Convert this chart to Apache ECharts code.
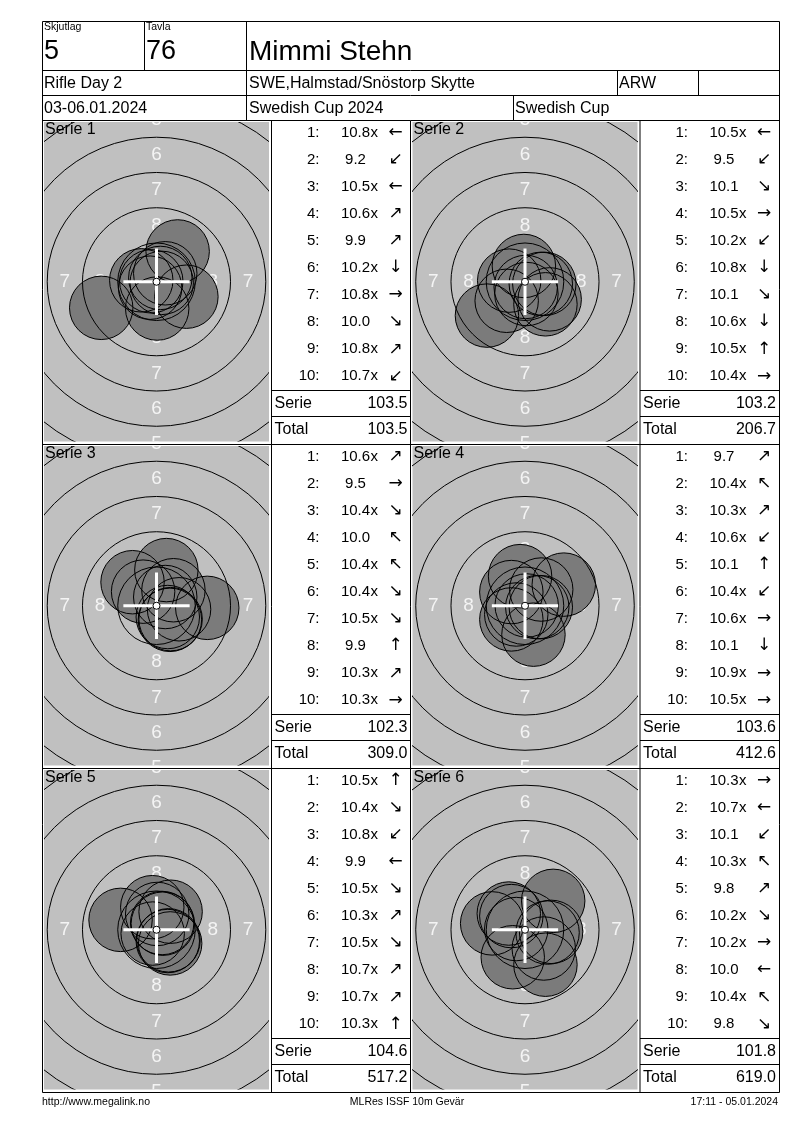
<!DOCTYPE html>
<html><head><meta charset="utf-8">
<script src="https://cdn.jsdelivr.net/npm/echarts@6/dist/echarts.min.js"></script>
<style>html,body{margin:0;padding:0;background:#fff}#c{width:800px;height:1130px}</style>
</head><body><div id="c"></div>
<script>
// ---------- header data ----------
const squad = '5';
const target = '76';
const shooterName = 'Mimmi Stehn';
const eventName = 'Rifle Day 2';
const club = 'SWE,Halmstad/Snöstorp Skytte';
const classCode = 'ARW';
const dates = '03-06.01.2024';
const competition = 'Swedish Cup 2024';
const cupName = 'Swedish Cup';
const footerLeft = 'http://www.megalink.no';
const footerMid = 'MLRes ISSF 10m Gevär';
const footerRight = '17:11 - 05.01.2024';

// ---------- series data ----------
const serieNames = ['Serie 1', 'Serie 2', 'Serie 3', 'Serie 4', 'Serie 5', 'Serie 6'];
const shotScores = [
  [10.8, 9.2, 10.5, 10.6, 9.9, 10.2, 10.8, 10.0, 10.8, 10.7],
  [10.5, 9.5, 10.1, 10.5, 10.2, 10.8, 10.1, 10.6, 10.5, 10.4],
  [10.6, 9.5, 10.4, 10.0, 10.4, 10.4, 10.5, 9.9, 10.3, 10.3],
  [9.7, 10.4, 10.3, 10.6, 10.1, 10.4, 10.6, 10.1, 10.9, 10.5],
  [10.5, 10.4, 10.8, 9.9, 10.5, 10.3, 10.5, 10.7, 10.7, 10.3],
  [10.3, 10.7, 10.1, 10.3, 9.8, 10.2, 10.2, 10.0, 10.4, 9.8]
];
const innerTen = [
  [1, 0, 1, 1, 0, 1, 1, 0, 1, 1],
  [1, 0, 0, 1, 1, 1, 0, 1, 1, 1],
  [1, 0, 1, 0, 1, 1, 1, 0, 1, 1],
  [0, 1, 1, 1, 0, 1, 1, 0, 1, 1],
  [1, 1, 1, 0, 1, 1, 1, 1, 1, 1],
  [1, 1, 0, 1, 0, 1, 1, 0, 1, 0]
];
const shotArrows = [
  ['←', '↙', '←', '↗', '↗', '↓', '→', '↘', '↗', '↙'],
  ['←', '↙', '↘', '→', '↙', '↓', '↘', '↓', '↑', '→'],
  ['↗', '→', '↘', '↖', '↖', '↘', '↘', '↑', '↗', '→'],
  ['↗', '↖', '↗', '↙', '↑', '↙', '→', '↓', '→', '→'],
  ['↑', '↘', '↙', '←', '↘', '↗', '↘', '↗', '↗', '↑'],
  ['→', '←', '↙', '↖', '↗', '↘', '→', '←', '↖', '↘']
];
// shot centres in mm from target centre (x right, y up)
const shotX = [
  [-0.37, -3.92, -1.08, 0.62, 1.50, 0.05, 0.37, 2.12, 0.27, -0.45],
  [-1.12, -2.70, 1.45, 1.12, -1.30, 0.05, 1.75, 0.10, -0.08, 1.37],
  [0.62, 3.60, 0.95, -1.70, -0.95, 1.00, 0.80, 0.70, 1.20, 1.60],
  [2.75, -0.97, 1.15, -0.62, -0.35, -0.97, 0.87, 0.60, 0.12, 1.12],
  [0.05, 0.97, -0.27, -2.55, 0.80, 1.00, 0.85, 0.45, 0.40, -0.30],
  [1.60, -0.62, -0.87, -1.15, 2.00, 1.33, 1.85, -2.33, -0.97, 1.45]
];
const shotY = [
  [0.03, -1.85, 0.10, 0.60, 2.15, -1.90, -0.08, -1.06, 0.27, -0.42],
  [0.08, -2.40, -1.60, -0.15, -1.35, -0.37, -1.25, -0.87, 1.12, -0.15],
  [0.62, -0.15, -1.00, 1.67, 1.00, -0.95, -0.80, 2.53, 1.10, -0.25],
  [1.50, 0.97, 1.15, -0.62, 2.10, -0.97, -0.10, -2.05, 0.02, -0.10],
  [1.12, -0.97, -0.27, 0.70, -0.80, 1.28, -0.75, 0.43, 0.48, 1.60],
  [-0.20, 0.05, -1.95, 1.15, 2.05, -1.33, -0.15, 0.45, 0.97, -2.48]
];
const serieSums = [103.5, 103.2, 102.3, 103.6, 104.6, 101.8];
const runningTotals = [103.5, 206.7, 309.0, 412.6, 517.2, 619.0];

// ---------- target geometry (mm) ----------
const ringRadii = [2.75, 5.25, 7.75, 10.25, 12.75, 15.25];
const ringLabelValues = [8, 7, 6, 5];
const ringLabelDist = [4.0, 6.5, 9.0, 11.5];
const tenDotRadius = 0.25;
const pelletRadius = 2.25;
const crossHalf = 2.35;

// ---------- layout ----------
const FONT = 'Liberation Sans, Arial, sans-serif';
const S = 14.1; // px per mm
const colX = [42, 410.5];
const targetW = 229.5, scoreW = 139;
const rowY = [120, 444, 768];
const rowH = 324;
const L = 42, R = 779, T = 21, B = 1092;

const chart = echarts.init(document.getElementById('c'), null, {renderer: 'canvas'});

const grids = [], xAxes = [], yAxes = [], series = [], G = [];

function txt(x, y, text, size, align, opts) {
  opts = opts || {};
  G.push({
    type: 'text', x: x, y: y, z: 100, silent: true,
    style: {
      text: text, font: (opts.weight || 'normal') + ' ' + size + 'px ' + (opts.family || FONT),
      fill: opts.color || '#000',
      align: align, textAlign: align,
      verticalAlign: 'middle', textVerticalAlign: 'middle'
    }
  });
}
function line(x1, y1, x2, y2) {
  G.push({type: 'line', z: 99, silent: true, shape: {x1: x1, y1: y1, x2: x2, y2: y2},
    style: {stroke: '#000', lineWidth: 1}});
}

// frame + header lines
G.push({type: 'rect', z: 99, silent: true, shape: {x: L + 0.5, y: T + 0.5, width: R - L, height: B - T},
  style: {fill: 'none', stroke: '#000', lineWidth: 1}});
line(L, 70.5, R, 70.5);
line(L, 95.5, R, 95.5);
line(L, 120.5, R, 120.5);
line(144.5, T, 144.5, 70.5);
line(246.5, T, 246.5, 120.5);
line(617.5, 70.5, 617.5, 95.5);
line(698.5, 70.5, 698.5, 95.5);
line(513.5, 95.5, 513.5, 120.5);

txt(44, 27, 'Skjutlag', 10.5, 'left');
txt(146, 27, 'Tavla', 10.5, 'left');
txt(44, 52, squad, 27, 'left');
txt(146, 52, target, 27, 'left');
txt(249, 52, shooterName, 28, 'left');
txt(44, 84, eventName, 16, 'left');
txt(249, 84, club, 16, 'left');
txt(619, 84, classCode, 16, 'left');
txt(44, 108.5, dates, 16, 'left');
txt(249, 108.5, competition, 16, 'left');
txt(515, 108.5, cupName, 16, 'left');

// body lines
line(L, rowY[1] + 0.5, R, rowY[1] + 0.5);
line(L, rowY[2] + 0.5, R, rowY[2] + 0.5);
[colX[0] + targetW, colX[1], colX[1] + targetW].forEach(function (x) { line(x, 120.5, x, B); });

// footer
txt(42, 1102, footerLeft, 10.5, 'left');
txt(407, 1102, footerMid, 10.5, 'center');
txt(778, 1102, footerRight, 10.5, 'right');

const labelData = [];
ringLabelValues.forEach(function (v, i) {
  const d = ringLabelDist[i];
  labelData.push([0, d, v], [0, -d, v], [-d, 0, v], [d, 0, v]);
});
const ringData = ringRadii.map(function (r) { return [0, 0, r]; });

for (let k = 0; k < 6; k++) {
  const col = k % 2, row = Math.floor(k / 2);
  const gx = colX[col] + 2, gy = rowY[row] + 2;
  const gw = targetW - 4.5, gh = rowH - 4.5;
  grids.push({left: gx, top: gy, width: gw, height: gh, show: true,
    backgroundColor: '#c0c0c0', borderWidth: 0, containLabel: false});
  const hx = gw / 2 / S, hy = gh / 2 / S;
  xAxes.push({gridIndex: k, type: 'value', min: -hx, max: hx, show: false});
  yAxes.push({gridIndex: k, type: 'value', min: -hy, max: hy, show: false});

  const shots = shotX[k].map(function (x, i) { return [x, shotY[k][i]]; });

  series.push({
    type: 'custom', xAxisIndex: k, yAxisIndex: k, clip: true, z: 1, silent: true,
    data: labelData, encode: {x: 0, y: 1},
    renderItem: function (p, api) {
      const c = api.coord([api.value(0), api.value(1)]);
      return {type: 'text', x: c[0], y: c[1], style: {text: String(api.value(2)),
        font: '19px ' + FONT, fill: '#f4f4f4', align: 'center', textAlign: 'center',
        verticalAlign: 'middle', textVerticalAlign: 'middle'}};
    }
  });
  series.push({
    type: 'custom', xAxisIndex: k, yAxisIndex: k, clip: true, z: 2, silent: true,
    data: shots, encode: {x: 0, y: 1},
    renderItem: function (p, api) {
      const c = api.coord([api.value(0), api.value(1)]);
      const r = api.size([pelletRadius, 0])[0];
      return {type: 'circle', shape: {cx: c[0], cy: c[1], r: r}, style: {fill: '#7b7b7b', stroke: null}};
    }
  });
  series.push({
    type: 'custom', xAxisIndex: k, yAxisIndex: k, clip: true, z: 3, silent: true,
    data: shots, encode: {x: 0, y: 1},
    renderItem: function (p, api) {
      const c = api.coord([api.value(0), api.value(1)]);
      const r = api.size([pelletRadius, 0])[0];
      return {type: 'circle', shape: {cx: c[0], cy: c[1], r: r}, style: {fill: 'none', stroke: '#000', lineWidth: 1}};
    }
  });
  series.push({
    type: 'custom', xAxisIndex: k, yAxisIndex: k, clip: true, z: 4, silent: true,
    data: ringData, encode: {x: 0, y: 1},
    renderItem: function (p, api) {
      const c = api.coord([api.value(0), api.value(1)]);
      const r = api.size([api.value(2), 0])[0];
      return {type: 'circle', shape: {cx: c[0], cy: c[1], r: r}, style: {fill: 'none', stroke: '#000', lineWidth: 1}};
    }
  });
  series.push({
    type: 'custom', xAxisIndex: k, yAxisIndex: k, clip: true, z: 5, silent: true,
    data: [[0, 0]], encode: {x: 0, y: 1},
    renderItem: function (p, api) {
      const c = api.coord([0, 0]);
      const a = api.coord([-crossHalf, 0]), b = api.coord([crossHalf, 0]);
      const u = api.coord([0, crossHalf]), d = api.coord([0, -crossHalf]);
      const r = api.size([tenDotRadius, 0])[0];
      return {type: 'group', children: [
        {type: 'line', shape: {x1: a[0], y1: a[1], x2: b[0], y2: b[1]}, style: {stroke: '#fff', lineWidth: 3}},
        {type: 'line', shape: {x1: u[0], y1: u[1], x2: d[0], y2: d[1]}, style: {stroke: '#fff', lineWidth: 3}},
        {type: 'circle', shape: {cx: c[0], cy: c[1], r: r}, style: {fill: '#fff', stroke: '#000', lineWidth: 1}}
      ]};
    }
  });

  // label on target
  txt(colX[col] + 3, rowY[row] + 9.5, serieNames[k], 16, 'left');

  // score column
  const x0 = colX[col] + targetW, y0 = rowY[row];
  for (let i = 0; i < 10; i++) {
    const y = y0 + 12.5 + 27.08 * i;
    txt(x0 + 48, y, (i + 1) + ':', 15, 'right');
    txt(x0 + 84, y, shotScores[k][i].toFixed(1), 15, 'center');
    if (innerTen[k][i]) txt(x0 + 99, y, 'x', 15, 'left');
    txt(x0 + 124, y, shotArrows[k][i], 17, 'center', {family: 'DejaVu Sans'});
  }
  line(x0, y0 + 270.5, x0 + scoreW, y0 + 270.5);
  line(x0, y0 + 296.5, x0 + scoreW, y0 + 296.5);
  txt(x0 + 3, y0 + 283.5, 'Serie', 16, 'left');
  txt(x0 + scoreW - 3, y0 + 283.5, serieSums[k].toFixed(1), 16, 'right');
  txt(x0 + 3, y0 + 309.5, 'Total', 16, 'left');
  txt(x0 + scoreW - 3, y0 + 309.5, runningTotals[k].toFixed(1), 16, 'right');
}

chart.setOption({
  animation: false,
  backgroundColor: '#fff',
  grid: grids, xAxis: xAxes, yAxis: yAxes, series: series,
  graphic: {elements: G}
});
</script></body></html>
